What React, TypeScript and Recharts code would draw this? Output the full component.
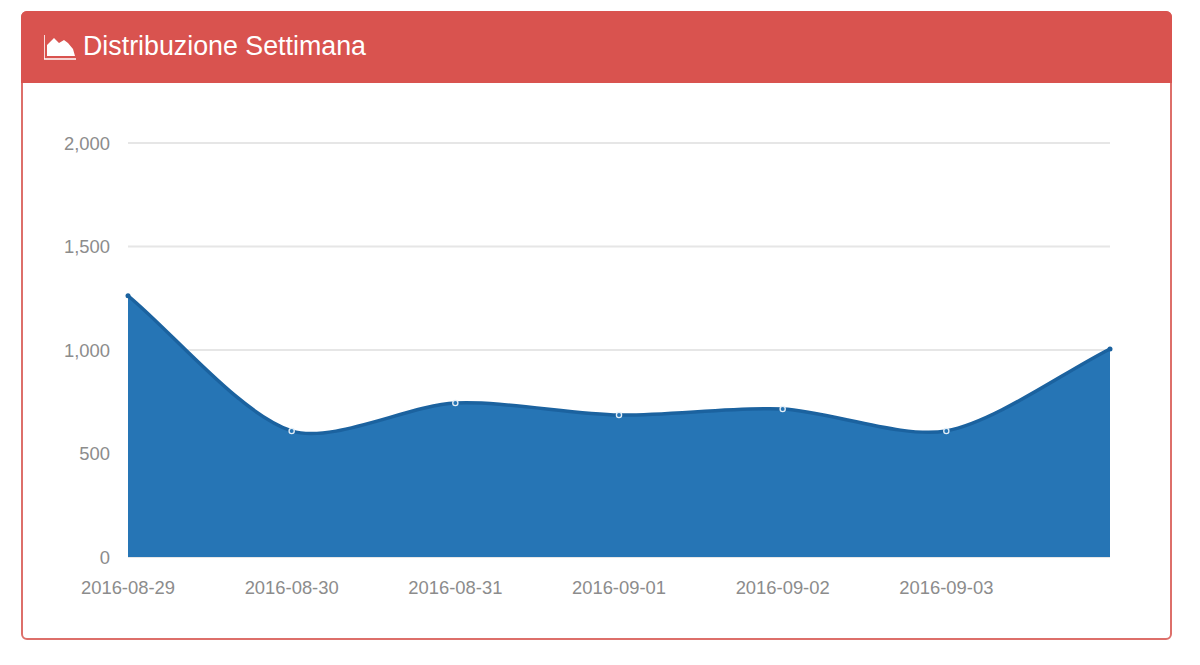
import React from 'react';
import { AreaChart, Area, CartesianGrid, XAxis, YAxis } from 'recharts';

const dates = ['2016-08-29', '2016-08-30', '2016-08-31', '2016-09-01', '2016-09-02', '2016-09-03', '2016-09-04'];
const values = [1262, 609, 744, 686, 715, 609, 1005];
const yTicks = [0, 500, 1000, 1500, 2000];

const data = dates.map((date, i) => ({ date, value: values[i] }));

const FONT = '"Liberation Sans", Arial, sans-serif';
const tickStyle = { fill: '#8c8c8c', fontSize: 18.4, fontFamily: FONT };

// same spline the original chart uses: tangents follow the neighbours' chord, weighted by distance
const TENSION = 0.28;
function controlPoints(prev: number[], p: number[], next: number[]) {
  const d01 = Math.hypot(p[0] - prev[0], p[1] - prev[1]);
  const d12 = Math.hypot(next[0] - p[0], next[1] - p[1]);
  const total = d01 + d12 || 1;
  const fa = (TENSION * d01) / total;
  const fb = (TENSION * d12) / total;
  return {
    before: [p[0] - fa * (next[0] - prev[0]), p[1] - fa * (next[1] - prev[1])],
    after: [p[0] + fb * (next[0] - prev[0]), p[1] + fb * (next[1] - prev[1])],
  };
}

function bezierCurve(context: any) {
  let pts: number[][] = [];
  let line = NaN;
  return {
    areaStart() {
      line = 0;
    },
    areaEnd() {
      line = NaN;
    },
    lineStart() {
      pts = [];
    },
    lineEnd() {
      const controls = pts.map((p, i) => controlPoints(pts[Math.max(i - 1, 0)], p, pts[Math.min(i + 1, pts.length - 1)]));
      pts.forEach((p, i) => {
        if (i === 0) {
          if (line === 1) context.lineTo(p[0], p[1]);
          else context.moveTo(p[0], p[1]);
          return;
        }
        const c1 = controls[i - 1].after;
        const c2 = controls[i].before;
        context.bezierCurveTo(c1[0], c1[1], c2[0], c2[1], p[0], p[1]);
      });
      if (line === 1) context.closePath();
      line = 1 - line;
    },
    point(x: number, y: number) {
      pts.push([+x, +y]);
    },
  };
}

function PointDot({ cx, cy, index }: any) {
  if (index === 0 || index === dates.length - 1) {
    return <circle key={index} cx={cx} cy={cy} r={2.5} fill="#1b629f" />;
  }
  return <circle key={index} cx={cx} cy={cy} r={2.6} fill="#2675b5" stroke="#e4eef7" strokeWidth={1.3} />;
}

function AreaChartIcon() {
  return (
    <svg width="32" height="26" viewBox="0 0 32 26" style={{ position: 'absolute', left: 44, top: 34 }}>
      <path d="M0 1V25H32" fill="none" stroke="#fff" strokeWidth="1.6" />
      <path d="M3 22V11L10 4L15 9L20 6L24 9L29 15L31 22Z" fill="#fff" />
    </svg>
  );
}

export default function App() {
  return (
    <div style={{ position: 'absolute', left: 0, top: 0, width: 1200, height: 665, background: '#fff', overflow: 'hidden' }}>
      <div
        style={{
          position: 'absolute',
          left: 21,
          top: 11,
          width: 1151,
          height: 629,
          boxSizing: 'border-box',
          border: '2px solid #dd6f6a',
          borderRadius: 6,
        }}
      />
      <div
        style={{
          position: 'absolute',
          left: 21,
          top: 11,
          width: 1151,
          height: 72,
          background: '#d9534f',
          borderRadius: '6px 6px 0 0',
        }}
      />
      <AreaChartIcon />
      <div
        style={{
          position: 'absolute',
          left: 83,
          top: 31,
          color: '#fff',
          fontFamily: FONT,
          fontSize: 26.8,
          lineHeight: '30px',
        }}
      >
        Distribuzione Settimana
      </div>
      <div style={{ position: 'absolute', left: 0, top: 0 }}>
        <AreaChart
          width={1200}
          height={665}
          data={data}
          margin={{ top: 143, right: 90, bottom: 78, left: 68 }}
        >
          <CartesianGrid horizontal vertical={false} stroke="#e6e6e6" strokeWidth={2} />
          <XAxis
            dataKey="date"
            height={30}
            axisLine={false}
            tickLine={false}
            tickSize={0}
            tickMargin={24}
            interval={0}
            tick={tickStyle}
            tickFormatter={(d: string) => (d === dates[dates.length - 1] ? '' : d)}
          />
          <YAxis
            width={60}
            domain={[0, 2000]}
            ticks={yTicks}
            axisLine={false}
            tickLine={false}
            tickSize={0}
            tickMargin={18}
            tick={tickStyle}
            tickFormatter={(v: number) => v.toLocaleString('en-US')}
          />
          <Area
            type={bezierCurve as any}
            dataKey="value"
            stroke="#1b629f"
            strokeWidth={3.5}
            fill="#2675b5"
            fillOpacity={1}
            dot={PointDot}
            isAnimationActive={false}
          />
        </AreaChart>
      </div>
    </div>
  );
}
